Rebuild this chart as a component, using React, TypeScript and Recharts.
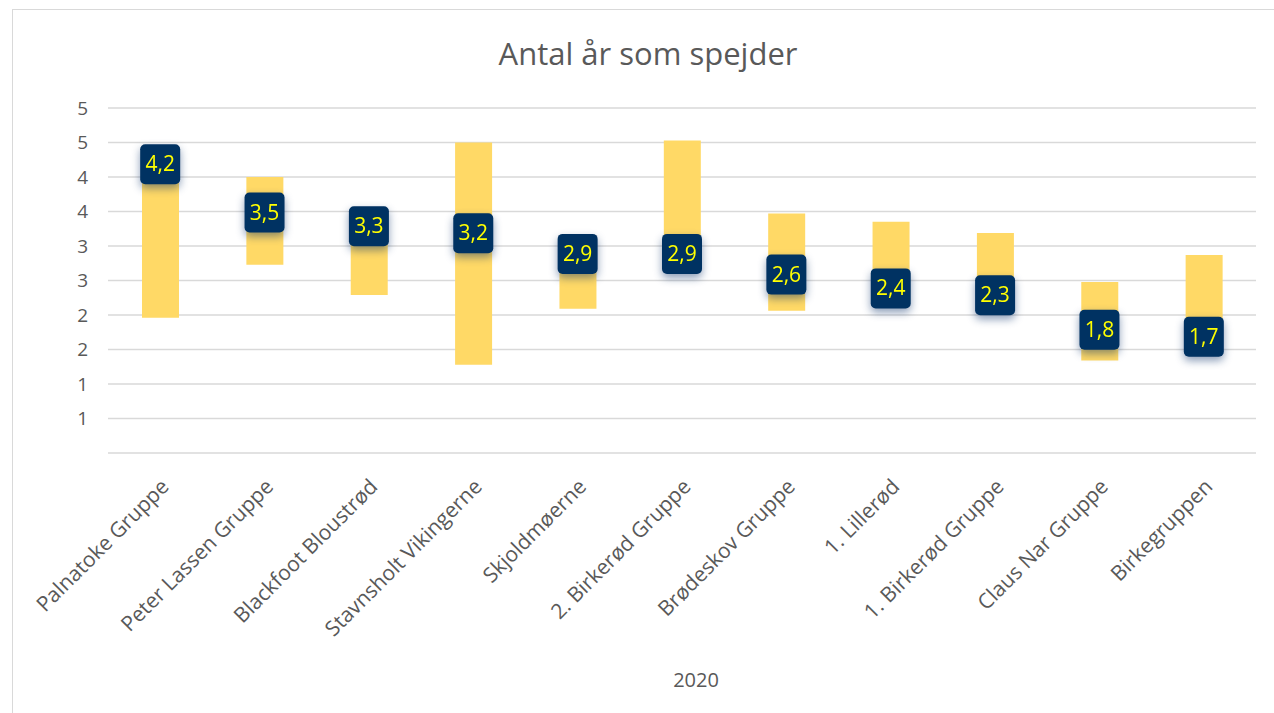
import { ComposedChart, Bar, Line, XAxis, YAxis, CartesianGrid } from "recharts";

const categories = [
  "Palnatoke Gruppe",
  "Peter Lassen Gruppe",
  "Blackfoot Bloustrød",
  "Stavnsholt Vikingerne",
  "Skjoldmøerne",
  "2. Birkerød Gruppe",
  "Brødeskov Gruppe",
  "1. Lillerød",
  "1. Birkerød Gruppe",
  "Claus Nar Gruppe",
  "Birkegruppen",
];
const lows = [1.96, 2.73, 2.29, 1.28, 2.09, 2.75, 2.06, 2.3, 2.2, 1.34, 1.6];
const highs = [4.3, 4.0, 3.5, 4.5, 3.1, 4.53, 3.47, 3.35, 3.19, 2.48, 2.87];
const means = [4.2, 3.5, 3.3, 3.2, 2.9, 2.9, 2.6, 2.4, 2.3, 1.8, 1.7];

const yTicks = [0, 0.5, 1, 1.5, 2, 2.5, 3, 3.5, 4, 4.5, 5];
const yTickLabels = ["", "1", "1", "2", "2", "3", "3", "4", "4", "5", "5"];

const FONT = "'Open Sans', 'Noto Sans', sans-serif";
const TEXT = "#595959";

const data = categories.map((name, i) => ({
  name,
  range: [lows[i], highs[i]],
  mean: means[i],
}));

function CategoryTick(props: any) {
  const { x, y, payload } = props;
  const ax = x + 10;
  const ay = y + 27;
  return (
    <text
      x={ax}
      y={ay}
      transform={`rotate(-45, ${ax}, ${ay})`}
      textAnchor="end"
      fontSize={21}
      fontFamily={FONT}
      fill={TEXT}
    >
      {payload.value}
    </text>
  );
}

function MeanBox(props: any) {
  const { cx, cy, value, index } = props;
  if (cx == null || cy == null) return <g key={index} />;
  return (
    <g key={index} style={{ filter: "drop-shadow(0px 4px 4px rgba(0,40,100,0.45))" }}>
      <rect x={cx - 20} y={cy - 19} width={40} height={40} rx={5} fill="#003262" />
      <text
        x={cx}
        y={cy + 8}
        textAnchor="middle"
        fontSize={21}
        fontFamily={FONT}
        fill="#FFFF00"
      >
        {String(value).replace(".", ",")}
      </text>
    </g>
  );
}

export default function App() {
  return (
    <div style={{ position: "absolute", left: 0, top: 0, width: 1274, height: 713, background: "#fff", overflow: "hidden" }}>
      <div
        style={{
          position: "absolute",
          left: 12,
          top: 9,
          width: 1300,
          height: 740,
          border: "1px solid #d9d9d9",
        }}
      />
      <ComposedChart
        width={1274}
        height={713}
        data={data}
        margin={{ top: 108, right: 18, bottom: 0, left: 0 }}
        style={{ position: "absolute", left: 0, top: 0 }}
      >
        <CartesianGrid vertical={false} stroke="#d9d9d9" strokeWidth={1.5} />
        <XAxis
          dataKey="name"
          interval={0}
          axisLine={false}
          tickLine={false}
          height={260}
          tick={<CategoryTick />}
        />
        <YAxis
          domain={[0, 5]}
          ticks={yTicks}
          interval={0}
          axisLine={false}
          tickLine={false}
          width={108}
          tickMargin={14}
          tickFormatter={(v: number) => yTickLabels[yTicks.indexOf(v)] ?? ""}
          tick={{ fontSize: 19, fill: TEXT, fontFamily: FONT }}
        />
        <Bar dataKey="range" fill="#FFD966" barSize={37} isAnimationActive={false} />
        <Line
          dataKey="mean"
          stroke="none"
          dot={(p: any) => <MeanBox {...p} key={p.index} />}
          activeDot={false}
          isAnimationActive={false}
        />
      </ComposedChart>
      <svg width={1274} height={713} style={{ position: "absolute", left: 0, top: 0, pointerEvents: "none" }}>
        <text x={648} y={65} textAnchor="middle" fontSize={31} fontFamily={FONT} fill={TEXT}>
          Antal år som spejder
        </text>
        <text x={696} y={687} textAnchor="middle" fontSize={20} fontFamily={FONT} fill={TEXT}>
          2020
        </text>
      </svg>
    </div>
  );
}
